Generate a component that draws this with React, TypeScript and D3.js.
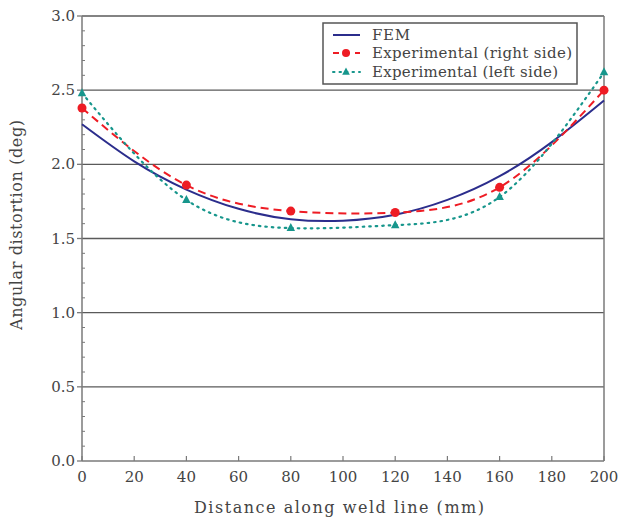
import React from "react";
import * as d3 from "d3";

const xTicks = [0, 20, 40, 60, 80, 100, 120, 140, 160, 180, 200];
const yTicks = [0, 0.5, 1.0, 1.5, 2.0, 2.5, 3.0];

const femX = [0, 20, 40, 60, 80, 100, 120, 140, 160, 180, 200];
const femY = [2.27, 2.02, 1.83, 1.7, 1.63, 1.62, 1.66, 1.76, 1.92, 2.15, 2.43];

const expX = [0, 40, 80, 120, 160, 200];
const rightY = [2.38, 1.86, 1.685, 1.675, 1.845, 2.5];
const leftY = [2.48, 1.76, 1.57, 1.59, 1.78, 2.62];

const W = 621;
const H = 522;
const FONT = "'DejaVu Serif', serif";

export default function App() {
  const x = d3.scaleLinear().domain([0, 200]).range([82, 604]);
  const y = d3.scaleLinear().domain([0, 3]).range([461, 16]);

  const line = d3
    .line<[number, number]>()
    .x((d) => x(d[0]))
    .y((d) => y(d[1]))
    .curve(d3.curveNatural);

  const femPts = femX.map((v, i) => [v, femY[i]] as [number, number]);
  const rightPts = expX.map((v, i) => [v, rightY[i]] as [number, number]);
  const leftPts = expX.map((v, i) => [v, leftY[i]] as [number, number]);

  const minorY = d3.range(0, 3.0001, 0.1).filter((v) => Math.abs(v * 2 - Math.round(v * 2)) > 1e-6);

  const navy = "#2b2d8c";
  const red = "#ee1c24";
  const teal = "#17968c";
  const grid = "#5a5a5a";
  const axis = "#7a7a7a";
  const textCol = "#444";

  const tri = (cx: number, cy: number, s: number) =>
    `M${cx},${cy - s}L${cx + s * 0.85},${cy + s * 0.6}L${cx - s * 0.85},${cy + s * 0.6}Z`;

  return (
    <svg width={W} height={H} style={{ display: "block", position: "absolute", left: 0, top: 0 }}>
      <rect width={W} height={H} fill="#fff" />
      {yTicks.map((t) => (
        <line key={"g" + t} x1={x(0)} x2={x(200)} y1={y(t)} y2={y(t)} stroke={t === 0 ? axis : grid} strokeWidth={1.3} />
      ))}
      <line x1={x(0)} x2={x(0)} y1={y(0)} y2={y(3)} stroke={axis} strokeWidth={1.5} />
      <line x1={x(200)} x2={x(200)} y1={y(0)} y2={y(3)} stroke={axis} strokeWidth={1.5} />
      {yTicks.map((t) => (
        <line key={"yt" + t} x1={x(0) - 5} x2={x(0)} y1={y(t)} y2={y(t)} stroke={axis} strokeWidth={1.3} />
      ))}
      {minorY.map((t) => (
        <line key={"ym" + t} x1={x(0)} x2={x(0) + 3} y1={y(t)} y2={y(t)} stroke={axis} strokeWidth={1} />
      ))}
      {xTicks.map((t) => (
        <line key={"xt" + t} x1={x(t)} x2={x(t)} y1={y(0)} y2={y(0) - 5} stroke={axis} strokeWidth={1.2} />
      ))}
      {yTicks.map((t) => (
        <text key={"yl" + t} x={x(0) - 7} y={y(t) + 5} textAnchor="end" fontFamily={FONT} fontSize={15} fill={textCol}>
          {t.toFixed(1)}
        </text>
      ))}
      {xTicks.map((t) => (
        <text key={"xl" + t} x={x(t)} y={y(0) + 21} textAnchor="middle" fontFamily={FONT} fontSize={15} fill={textCol}>
          {t}
        </text>
      ))}
      <text x={339} y={513} textAnchor="middle" fontFamily={FONT} fontSize={16} fill={textCol}
        textLength={290} lengthAdjust="spacing">
        Distance along weld line (mm)
      </text>
      <text
        transform={`translate(22,225) rotate(-90)`}
        textAnchor="middle"
        fontFamily={FONT}
        fontSize={16}
        fill={textCol}
        textLength={210}
        lengthAdjust="spacing"
      >
        Angular distortion (deg)
      </text>
      <path d={line(femPts) || ""} fill="none" stroke={navy} strokeWidth={2} />
      <path d={line(rightPts) || ""} fill="none" stroke={red} strokeWidth={2} strokeDasharray="8,5" />
      <path d={line(leftPts) || ""} fill="none" stroke={teal} strokeWidth={2.2} strokeDasharray="1.5,5" strokeLinecap="round" />
      {rightPts.map((p, i) => (
        <circle key={"r" + i} cx={x(p[0])} cy={y(p[1])} r={4.5} fill={red} />
      ))}
      {leftPts.map((p, i) => (
        <path key={"l" + i} d={tri(x(p[0]), y(p[1]), 5)} fill={teal} />
      ))}
      <g>
        <rect x={323} y={23} width={254} height={61} fill="#fff" stroke="#555" strokeWidth={1.5} />
        <line x1={333} x2={360} y1={35} y2={35} stroke={navy} strokeWidth={2} />
        <text x={372} y={40} fontFamily={FONT} fontSize={15} fill={textCol} textLength={38} lengthAdjust="spacing">FEM</text>
        <line x1={333} x2={360} y1={53} y2={53} stroke={red} strokeWidth={2} strokeDasharray="6,5" />
        <circle cx={346} cy={53} r={4} fill={red} />
        <text x={372} y={58} fontFamily={FONT} fontSize={15} fill={textCol} textLength={200} lengthAdjust="spacing">Experimental (right side)</text>
        <line x1={333} x2={360} y1={72} y2={72} stroke={teal} strokeWidth={2} strokeDasharray="1.5,5" strokeLinecap="round" />
        <path d={tri(346, 72, 4.5)} fill={teal} />
        <text x={372} y={77} fontFamily={FONT} fontSize={15} fill={textCol} textLength={186} lengthAdjust="spacing">Experimental (left side)</text>
      </g>
    </svg>
  );
}
